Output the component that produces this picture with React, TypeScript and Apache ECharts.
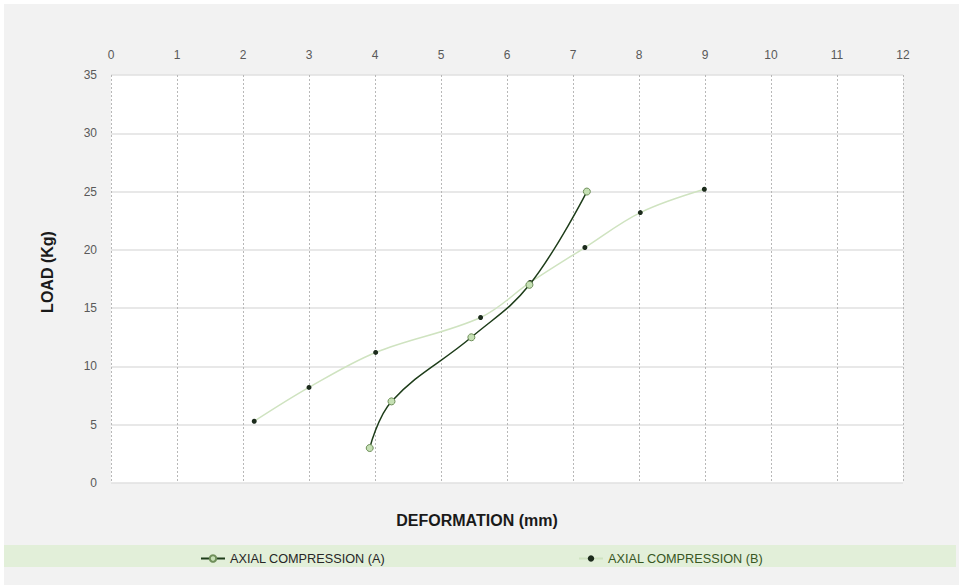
import React, { useEffect, useRef } from "react";
import * as echarts from "echarts";

const xTicks = [0, 1, 2, 3, 4, 5, 6, 7, 8, 9, 10, 11, 12];
const yTicks = [0, 5, 10, 15, 20, 25, 30, 35];

const seriesAName = "AXIAL COMPRESSION (A)";
const seriesADeformation = [3.92, 4.25, 5.46, 6.34, 7.21];
const seriesALoad = [3, 7, 12.5, 17, 25];

const seriesBName = "AXIAL COMPRESSION (B)";
const seriesBDeformation = [2.17, 3.0, 4.01, 5.6, 6.35, 7.18, 8.02, 8.99];
const seriesBLoad = [5.3, 8.2, 11.2, 14.2, 17.2, 20.2, 23.2, 25.2];

const xTitle = "DEFORMATION (mm)";
const yTitle = "LOAD (Kg)";

export default function App() {
  const ref = useRef<HTMLDivElement>(null);
  useEffect(() => {
    if (!ref.current) return;
    const chart = echarts.init(ref.current, null, { renderer: "svg" });
    const dataA = seriesADeformation.map((x, i) => [x, seriesALoad[i]]);
    const dataB = seriesBDeformation.map((x, i) => [x, seriesBLoad[i]]);
    chart.setOption({
      animation: false,
      backgroundColor: "#ffffff",
      textStyle: { fontFamily: "Liberation Sans, Arial, sans-serif" },
      graphic: [
        {
          type: "rect",
          z: -10,
          silent: true,
          shape: { x: 4, y: 4, width: 955, height: 581 },
          style: { fill: "#f2f2f2" },
        },
        {
          type: "rect",
          z: -9,
          silent: true,
          shape: { x: 4, y: 545, width: 952, height: 22 },
          style: { fill: "#e2efd9" },
        },
        {
          type: "text",
          x: 477,
          y: 520,
          style: {
            text: xTitle,
            fill: "#1a1a1a",
            font: "bold 16px Liberation Sans, Arial, sans-serif",
            align: "center",
            verticalAlign: "middle",
          },
        },
        {
          type: "text",
          x: 47,
          y: 272,
          rotation: Math.PI / 2,
          style: {
            text: yTitle,
            fill: "#1a1a1a",
            font: "bold 16px Liberation Sans, Arial, sans-serif",
            align: "center",
            verticalAlign: "middle",
          },
        },
      ],
      grid: {
        left: 111,
        right: 56,
        top: 75,
        bottom: 102,
        show: true,
        backgroundColor: "#ffffff",
        borderWidth: 0,
      },
      legend: [
        {
          data: [seriesAName],
          left: 200,
          top: 552,
          padding: 0,
          itemWidth: 24,
          itemHeight: 8,
          textStyle: { color: "#262626", fontSize: 12.7, fontFamily: "Liberation Sans, Arial, sans-serif" },
        },
        {
          data: [seriesBName],
          left: 578,
          top: 552,
          padding: 0,
          itemWidth: 24,
          itemHeight: 8,
          textStyle: { color: "#385723", fontSize: 12.7, fontFamily: "Liberation Sans, Arial, sans-serif" },
        },
      ],
      xAxis: {
        type: "value",
        position: "top",
        min: xTicks[0],
        max: xTicks[xTicks.length - 1],
        interval: 1,
        axisLine: { show: false },
        axisTick: { show: false },
        axisLabel: { color: "#595959", fontSize: 12, margin: 14 },
        splitLine: { show: true, lineStyle: { color: "#b8b8b8", type: [2, 2], width: 1 } },
      },
      yAxis: {
        type: "value",
        min: yTicks[0],
        max: yTicks[yTicks.length - 1],
        interval: 5,
        axisLine: { show: false },
        axisTick: { show: false },
        axisLabel: { color: "#595959", fontSize: 12, margin: 14 },
        splitLine: { show: true, lineStyle: { color: "#e0e0e0", width: 1.5 } },
      },
      series: [
        {
          name: seriesBName,
          type: "line",
          data: dataB,
          smooth: 0.35,
          symbol: "circle",
          symbolSize: 5,
          lineStyle: { color: "#cfe3c0", width: 1.5 },
          itemStyle: { color: "#1c2b1c", borderColor: "#1c2b1c", borderWidth: 0 },
          z: 2,
        },
        {
          name: seriesAName,
          type: "line",
          data: dataA,
          smooth: 0.4,
          symbol: "circle",
          symbolSize: 7,
          lineStyle: { color: "#1e3d1a", width: 1.5 },
          itemStyle: { color: "#c5e0b4", borderColor: "#6f8f5a", borderWidth: 1 },
          z: 3,
        },
      ],
    });
    return () => chart.dispose();
  }, []);
  return (
    <div
      ref={ref}
      style={{ position: "fixed", left: 0, top: 0, width: 959, height: 585 }}
    />
  );
}
